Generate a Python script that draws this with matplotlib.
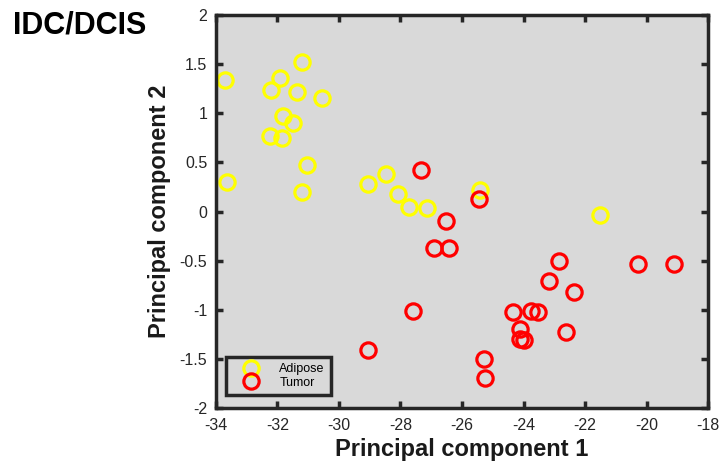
import matplotlib
matplotlib.use("Agg")
import matplotlib.pyplot as plt
from matplotlib.ticker import FuncFormatter

plt.rcParams['font.family'] = ['Liberation Sans', 'DejaVu Sans']
plt.rcParams['axes.unicode_minus'] = False

# adipose samples (PC1, PC2)
adipose_pc1 = [-33.71, -33.64, -31.21, -31.92, -32.21, -31.37, -30.56, -31.82, -31.50, -32.25,
               -31.86, -31.05, -31.21, -29.06, -28.48, -28.09, -27.73, -27.12, -25.40, -21.50]
adipose_pc2 = [1.34, 0.30, 1.52, 1.36, 1.24, 1.22, 1.16, 0.97, 0.90, 0.77,
               0.75, 0.47, 0.20, 0.28, 0.38, 0.18, 0.05, 0.04, 0.22, -0.04]

# tumor samples (PC1, PC2)
tumor_pc1 = [-27.32, -25.46, -26.51, -26.91, -26.43, -27.59, -22.86, -23.18, -22.37, -20.29,
             -19.10, -24.35, -23.75, -23.54, -24.13, -24.10, -24.00, -22.61, -25.29, -25.26, -29.06]
tumor_pc2 = [0.42, 0.13, -0.10, -0.37, -0.37, -1.01, -0.50, -0.71, -0.82, -0.53,
             -0.53, -1.02, -1.01, -1.02, -1.20, -1.30, -1.31, -1.23, -1.50, -1.69, -1.41]

xticks = [-34, -32, -30, -28, -26, -24, -22, -20, -18]
yticks = [-2, -1.5, -1, -0.5, 0, 0.5, 1, 1.5, 2]

fig = plt.figure(figsize=(7.19, 4.65), dpi=100)
ax = fig.add_axes([0.300, 0.1226, 0.685, 0.845])
ax.set_facecolor('#d9d9d9')

ax.plot(adipose_pc1, adipose_pc2, 'o', mfc='none', mec='#ffff00', ms=11, mew=2.3,
        label='Adipose', linestyle='none')
ax.plot(tumor_pc1, tumor_pc2, 'o', mfc='none', mec='#ff0000', ms=11, mew=2.3,
        label='Tumor', linestyle='none')

ax.set_xlim(-34, -18)
ax.set_ylim(-2, 2)
ax.set_xticks(xticks)
ax.set_yticks(yticks)
ax.yaxis.set_major_formatter(FuncFormatter(lambda v, p: '%g' % v))
ax.tick_params(direction='in', length=5, width=2.5, labelsize=11.5, colors='#262626',
               top=True, right=True, labelcolor='#262626')
ax.tick_params(axis='x', pad=7)
ax.tick_params(axis='y', pad=6)
for s in ax.spines.values():
    s.set_linewidth(2.5)
    s.set_color('#262626')

ax.set_xlabel('Principal component 1', fontsize=17, fontweight='bold', labelpad=4, color='#1a1a1a')
ax.set_ylabel('Principal component 2', fontsize=17, fontweight='bold', labelpad=6, color='#1a1a1a')

leg = ax.legend(loc='lower left', fontsize=9, frameon=True, fancybox=False,
                borderpad=0.5, handletextpad=0.8, labelspacing=0.15,
                bbox_to_anchor=(0.02, 0.033), handlelength=3.0, borderaxespad=0)
leg.get_frame().set_facecolor('#d9d9d9')
leg.get_frame().set_edgecolor('#262626')
leg.get_frame().set_linewidth(2.5)
leg.get_frame().set_alpha(1)

fig.text(0.018, 0.928, 'IDC/DCIS', fontsize=22, fontweight='bold', ha='left', va='baseline')

fig.savefig('out.png', dpi=100)
